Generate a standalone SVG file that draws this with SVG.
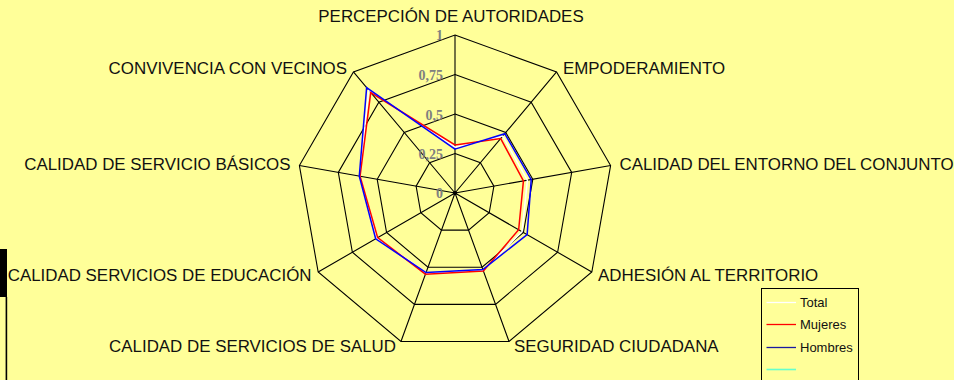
<svg xmlns="http://www.w3.org/2000/svg" width="954" height="380" viewBox="0 0 954 380">
<style>
.lbl{font-family:"Liberation Sans",Arial,sans-serif;font-size:16.9px;fill:#111}
.tick{font-family:"Liberation Serif","Times New Roman",serif;font-size:14px;font-weight:bold;fill:#808080;text-anchor:end}
.grid{fill:none;stroke:#000;stroke-width:1.1}
.ser{fill:none;stroke-width:1.5;stroke-linejoin:miter}
.leg{font-family:"Liberation Sans",Arial,sans-serif;font-size:13px;fill:#111}
</style>
<rect x="0" y="0" width="954" height="380" fill="#ffff99"/>
<g id="left-frame">
<rect x="0" y="249" width="7" height="48" fill="#000"/>
<rect x="5.6" y="297" width="1.6" height="83" fill="#000"/>
</g>
<g id="grid">
<polygon class="grid" points="455,35 556.56,71.97 610.6,165.56 591.83,272 509.04,341.47 400.96,341.47 318.17,272 299.4,165.56 353.44,71.97"/>
<polygon class="grid" points="455,74.5 531.17,102.22 571.7,172.42 557.62,252.25 495.53,304.35 414.47,304.35 352.38,252.25 338.3,172.42 378.83,102.22"/>
<polygon class="grid" points="455,114 505.78,132.48 532.8,179.28 523.42,232.5 482.02,267.24 427.98,267.24 386.58,232.5 377.2,179.28 404.22,132.48"/>
<polygon class="grid" points="455,153.5 480.39,162.74 493.9,186.14 489.21,212.75 468.51,230.12 441.49,230.12 420.79,212.75 416.1,186.14 429.61,162.74"/>
<path class="grid" d="M455,193 L455,35 M455,193 L556.56,71.97 M455,193 L610.6,165.56 M455,193 L591.83,272 M455,193 L509.04,341.47 M455,193 L400.96,341.47 M455,193 L318.17,272 M455,193 L299.4,165.56 M455,193 L353.44,71.97"/>
</g>
<g id="ticks">
<text class="tick" x="443" y="40">1</text>
<text class="tick" x="443" y="80">0,75</text>
<text class="tick" x="443" y="120">0,5</text>
<text class="tick" x="443" y="159">0,25</text>
<text class="tick" x="443" y="198">0</text>
</g>
<g id="connectors">
<polygon id="total" class="ser" stroke="#ffffff" points="455,147.2 502.76,136.08 527.38,180.24 522.03,231.7 483.11,270.24 426.89,273.16 376.62,238.25 359.77,176.21 368.67,90.12"/>
<polygon id="mujeres" class="ser" stroke="#ff0000" points="455,145 500.7,138.53 523.44,180.93 518.65,229.75 483.37,270.95 425.45,274.19 377.66,237.65 360.06,176.26 370.73,92.57"/>
<polygon id="hombres" class="ser" stroke="#0000ff" points="455,149.1 504.75,133.71 531.22,179.56 527.14,234.65 482.84,269.49 426.03,272.59 375.67,238.8 359.28,176.12 366.62,87.67"/>
</g>
<circle cx="455" cy="193" r="2" fill="#000"/>
<g id="axis-labels">
<text class="lbl" x="451" y="22" text-anchor="middle">PERCEPCIÓN DE AUTORIDADES</text>
<text class="lbl" x="563" y="74">EMPODERAMIENTO</text>
<text class="lbl" x="619.5" y="170">CALIDAD DEL ENTORNO DEL CONJUNTO</text>
<text class="lbl" x="598" y="281">ADHESIÓN AL TERRITORIO</text>
<text class="lbl" x="514" y="352">SEGURIDAD CIUDADANA</text>
<text class="lbl" x="396" y="352" text-anchor="end">CALIDAD DE SERVICIOS DE SALUD</text>
<text class="lbl" x="311.5" y="281" text-anchor="end">CALIDAD SERVICIOS DE EDUCACIÓN</text>
<text class="lbl" x="290.5" y="169.5" text-anchor="end">CALIDAD DE SERVICIO BÁSICOS</text>
<text class="lbl" x="347" y="74" text-anchor="end">CONVIVENCIA CON VECINOS</text>
</g>
<g id="legend">
<rect x="761.5" y="288.5" width="97" height="93" fill="#ffff99" stroke="#000" stroke-width="1"/>
<line x1="766.5" y1="302.5" x2="796" y2="302.5" stroke="#ffffff" stroke-width="1.3"/>
<text class="leg" x="800" y="307">Total</text>
<line x1="766.5" y1="324.5" x2="796" y2="324.5" stroke="#ff0000" stroke-width="1.3"/>
<text class="leg" x="800" y="329">Mujeres</text>
<line x1="766.5" y1="347.5" x2="796" y2="347.5" stroke="#1a1aa0" stroke-width="1.3"/>
<text class="leg" x="800" y="352">Hombres</text>
<line x1="766.5" y1="369.5" x2="796" y2="369.5" stroke="#66ffcc" stroke-width="1.6"/>
</g>
</svg>
